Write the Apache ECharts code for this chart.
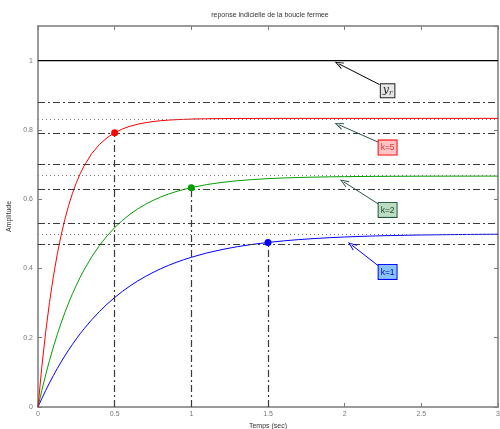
<!DOCTYPE html>
<html>
<head>
<meta charset="utf-8">
<script src="https://cdn.jsdelivr.net/npm/echarts@6/dist/echarts.min.js"></script>
<style>
  html, body { margin: 0; padding: 0; background: #fff; }
  #chart { width: 500px; height: 429px; }
</style>
</head>
<body>
<div id="chart"></div>
<script>
// temps (s) et reponses
const times = [
  0, 0.025, 0.05, 0.075, 0.1, 0.125, 0.15, 0.175, 0.2, 0.225, 0.25, 0.275, 0.3,
  0.35, 0.4, 0.45, 0.5, 0.55, 0.6, 0.65, 0.7, 0.75, 0.8, 0.85, 0.9, 0.95, 1.0,
  1.1, 1.2, 1.3, 1.4, 1.5, 1.6, 1.7, 1.8, 1.9, 2.0, 2.1, 2.2, 2.3, 2.4, 2.5, 2.6, 2.7, 2.8, 2.9, 3.0
]
const k1Values = [
  0, 0.0244, 0.0476, 0.0696, 0.0906, 0.1106, 0.1296, 0.1477, 0.1648, 0.1812, 0.1967, 0.2115, 0.2256,
  0.2517, 0.2753, 0.2967, 0.3161, 0.3336, 0.3494, 0.3637, 0.3767, 0.3884, 0.3991, 0.4087, 0.4174, 0.4252, 0.4323,
  0.4446, 0.4546, 0.4629, 0.4696, 0.4751, 0.4796, 0.4833, 0.4863, 0.4888, 0.4908, 0.4925, 0.4939, 0.4950, 0.4959, 0.4966, 0.4972, 0.4977, 0.4982, 0.4985, 0.4988
]
const k2Values = [
  0, 0.0482, 0.0929, 0.1343, 0.1728, 0.2085, 0.2416, 0.2723, 0.3008, 0.3272, 0.3517, 0.3745, 0.3956,
  0.4334, 0.4659, 0.4938, 0.5179, 0.5386, 0.5565, 0.5718, 0.5850, 0.5964, 0.6062, 0.6146, 0.6219, 0.6281, 0.6335,
  0.6421, 0.6485, 0.6532, 0.6567, 0.6593, 0.6612, 0.6626, 0.6637, 0.6645, 0.6650, 0.6655, 0.6658, 0.6660, 0.6662, 0.6663, 0.6664, 0.6665, 0.6665, 0.6666, 0.6666
]
const k5Values = [
  0, 0.1161, 0.2160, 0.3020, 0.3760, 0.4397, 0.4945, 0.5417, 0.5823, 0.6173, 0.6474, 0.6733, 0.6956,
  0.7313, 0.7577, 0.7773, 0.7918, 0.8026, 0.8106, 0.8165, 0.8208, 0.8241, 0.8265, 0.8282, 0.8296, 0.8305, 0.8313,
  0.8322, 0.8327, 0.8330, 0.8332, 0.8333, 0.8333, 0.8333, 0.8333, 0.8333, 0.8333, 0.8333, 0.8333, 0.8333, 0.8333, 0.8333, 0.8333, 0.8333, 0.8333, 0.8333, 0.8333
]

const refLevel = 1
const finalValues = [0.5, 0.667, 0.833]     // k=1, k=2, k=5
const upperBand = [0.525, 0.700, 0.875]
const lowerBand = [0.475, 0.633, 0.792]
const settleTimes = [1.5, 1.0, 0.5]

const xTicks = ['0', '0.5', '1', '1.5', '2', '2.5', '3']

// annotations : pointe de fleche, depart, centre de la boite (yr, k=5, k=2, k=1)
const arrowTips = [[1.961, 0.991], [1.961, 0.815], [1.994, 0.650], [2.045, 0.468]]
const arrowTails = [[2.227, 0.931], [2.227, 0.763], [2.227, 0.584], [2.227, 0.405]]
const boxCenters = [[2.28, 0.913], [2.28, 0.749], [2.28, 0.569], [2.28, 0.390]]

const chart = echarts.init(document.getElementById('chart'))

const curveColors = ['#0000ff', '#00a000', '#ff0000']
const dashDot = [7, 3, 2, 3]
const openArrow = 'path://M5,0 L10,10 L8.6,10 L5,2.6 L1.4,10 L0,10 Z'
const font = 'Liberation Sans'

const toPairs = (vals) => times.map((t, i) => [t, vals[i]])

const bandLines = []
finalValues.forEach((v, i) => {
  bandLines.push({ yAxis: upperBand[i], lineStyle: { type: dashDot, color: '#3a3a3a', width: 1.2 } })
  bandLines.push({ yAxis: v, lineStyle: { type: [1, 3], color: '#777', width: 1 } })
  bandLines.push({ yAxis: lowerBand[i], lineStyle: { type: dashDot, color: '#3a3a3a', width: 1.2 } })
  bandLines.push([
    { coord: [settleTimes[i], 0], lineStyle: { type: dashDot, color: '#3a3a3a', width: 1.2 } },
    { coord: [settleTimes[i], lowerBand[i]] }
  ])
})

const arrowColors = ['#000000', '#2f4f4f', '#2f4f4f', '#0000ff']
const arrowLines = arrowTips.map((tip, i) => [
  { coord: arrowTails[i], lineStyle: { color: arrowColors[i], width: 1, type: 'solid' } },
  { coord: tip }
])

const boxStyles = [
  { formatter: '{y|y}{r|r}', backgroundColor: '#e6e6e6', borderColor: '#222', color: '#222', padding: [0, 2, 1, 2] },
  { formatter: 'k=5', backgroundColor: '#ffc4c4', borderColor: '#ff0000', color: '#e83030', padding: [3, 2, 2, 2] },
  { formatter: 'k=2', backgroundColor: '#bcdcc4', borderColor: '#1f5a3a', color: '#1f4a30', padding: [3, 2, 2, 2] },
  { formatter: 'k=1', backgroundColor: '#88c4ff', borderColor: '#0000ff', color: '#0000c0', padding: [3, 2, 2, 2] }
]
const boxes = boxCenters.map((c, i) => ({
  coord: c,
  symbol: 'rect',
  symbolSize: 0,
  label: Object.assign({
    show: true,
    position: 'inside',
    fontSize: 8.5,
    fontFamily: font,
    borderWidth: 1,
    rich: {
      y: { fontFamily: 'DejaVu Serif', fontStyle: 'italic', fontSize: 11, color: '#222' },
      r: { fontFamily: 'DejaVu Serif', fontStyle: 'italic', fontSize: 7, color: '#222', padding: [5, 0, 0, 0] }
    }
  }, boxStyles[i])
}))

const settlePoints = settleTimes.map((t, i) => ({
  coord: [t, lowerBand[i]],
  symbol: 'circle',
  symbolSize: 7,
  itemStyle: { color: curveColors[i] }
}))

const axisGray = '#7a7a7a'
const labelStyle = { color: '#777', fontSize: 7, fontFamily: font }

const option = {
  animation: false,
  title: {
    text: 'reponse indicielle de la boucle fermee',
    left: 265,
    top: 7,
    textAlign: 'center',
    textStyle: { fontSize: 7, fontWeight: 'normal', color: '#333', fontFamily: font }
  },
  grid: { left: 38, right: 2, top: 26, bottom: 22, outerBoundsMode: 'none' },
  xAxis: [
    {
      type: 'value', min: 0, max: 3, interval: 0.5,
      name: 'Temps (sec)', nameLocation: 'middle', nameGap: 13,
      nameTextStyle: { color: '#333', fontSize: 7, fontFamily: font },
      axisLine: { show: true, onZero: false, lineStyle: { color: axisGray, width: 1.5 } },
      axisTick: { show: true, inside: true, length: 4, lineStyle: { color: axisGray } },
      axisLabel: Object.assign({ margin: 4, formatter: (v, i) => xTicks[i] }, labelStyle),
      splitLine: { show: false }
    },
    {
      type: 'value', min: 0, max: 3, interval: 0.5, position: 'top',
      axisLine: { show: true, onZero: false, lineStyle: { color: axisGray, width: 1.5 } },
      axisTick: { show: true, inside: true, length: 4, lineStyle: { color: axisGray } },
      axisLabel: { show: false },
      splitLine: { show: false }
    }
  ],
  yAxis: [
    {
      type: 'value', min: 0, max: 1.1, interval: 0.2,
      name: 'Amplitude', nameLocation: 'middle', nameGap: 22, nameRotate: 90,
      nameTextStyle: { color: '#333', fontSize: 7, fontFamily: font },
      axisLine: { show: true, onZero: false, lineStyle: { color: axisGray, width: 1.5 } },
      axisTick: { show: true, inside: true, length: 4, lineStyle: { color: axisGray } },
      axisLabel: Object.assign({ margin: 5, showMaxLabel: false }, labelStyle),
      splitLine: { show: false }
    },
    {
      type: 'value', min: 0, max: 1.1, interval: 0.2, position: 'right',
      axisLine: { show: true, onZero: false, lineStyle: { color: axisGray, width: 1.5 } },
      axisTick: { show: true, inside: true, length: 4, lineStyle: { color: axisGray } },
      axisLabel: { show: false },
      splitLine: { show: false }
    }
  ],
  series: [
    {
      name: 'reperes',
      type: 'line',
      data: [[0, refLevel], [3, refLevel]],
      showSymbol: false,
      lineStyle: { color: '#000', width: 1.2 },
      z: 3,
      markLine: {
        silent: true,
        symbol: ['none', 'none'],
        label: { show: false },
        data: bandLines
      }
    },
    {
      name: 'k=1', type: 'line', data: toPairs(k1Values),
      showSymbol: false, lineStyle: { color: curveColors[0], width: 1 }, z: 4
    },
    {
      name: 'k=2', type: 'line', data: toPairs(k2Values),
      showSymbol: false, lineStyle: { color: curveColors[1], width: 1 }, z: 4
    },
    {
      name: 'k=5', type: 'line', data: toPairs(k5Values),
      showSymbol: false, lineStyle: { color: curveColors[2], width: 1 }, z: 4
    },
    {
      name: 'annotations',
      type: 'line',
      data: [],
      z: 6,
      markLine: {
        silent: true,
        symbol: ['none', openArrow],
        symbolSize: [7, 9],
        label: { show: false },
        data: arrowLines
      },
      markPoint: {
        silent: true,
        data: boxes.concat(settlePoints)
      }
    }
  ]
}

chart.setOption(option)
</script>
</body>
</html>
